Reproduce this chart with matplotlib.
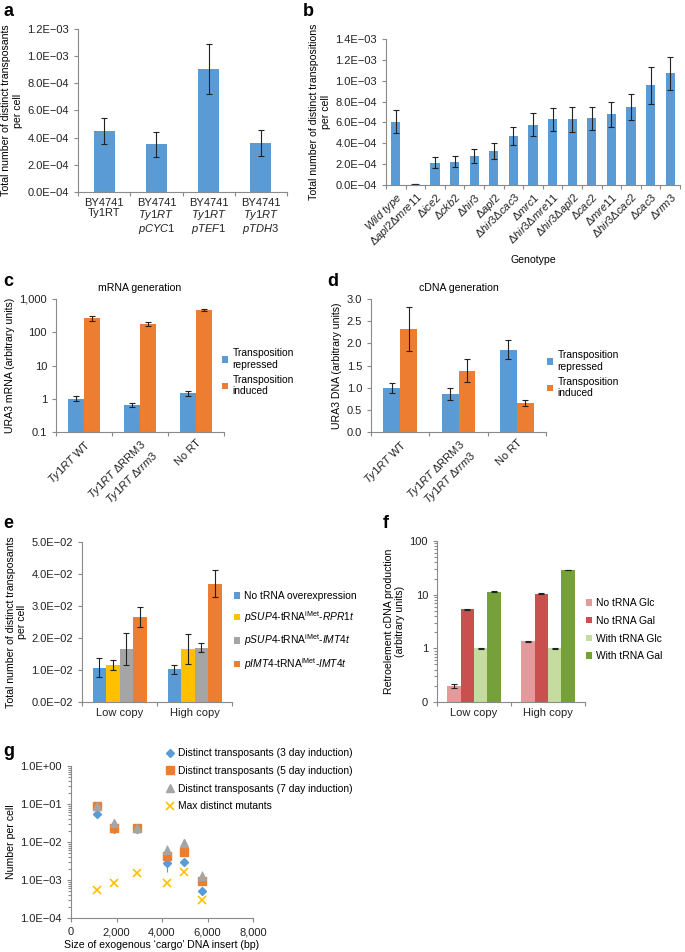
import numpy as np
import matplotlib.pyplot as plt
from matplotlib.ticker import NullLocator, NullFormatter, LogLocator

plt.rcParams['font.family'] = ['Liberation Sans', 'DejaVu Sans']
plt.rcParams['mathtext.fontset'] = 'custom'
plt.rcParams['mathtext.rm'] = 'Liberation Sans'
plt.rcParams['mathtext.it'] = 'Liberation Sans:italic'
plt.rcParams['mathtext.bf'] = 'Liberation Sans:bold'
FS = 8.0      # tick labels
LS = 7.6      # axis labels / titles
GS = 7.4      # legends
plt.rcParams['font.size'] = FS

# ---- data ----
# panel a
a_labels = ['BY4741\nTy1RT',
            'BY4741\n$\\mathit{Ty1RT}$\n$\\mathit{pCYC1}$',
            'BY4741\n$\\mathit{Ty1RT}$\n$\\mathit{pTEF1}$',
            'BY4741\n$\\mathit{Ty1RT}$\n$\\mathit{pTDH3}$']
a_vals = [4.5e-4, 3.5e-4, 9.05e-4, 3.6e-4]
a_err = [0.95e-4, 0.9e-4, 1.85e-4, 0.95e-4]
a_ticks = ['0.0E\u221204', '2.0E\u221204', '4.0E\u221204', '6.0E\u221204',
           '8.0E\u221204', '1.0E\u221203', '1.2E\u221203']

# panel b
b_labels = ['$\\mathit{Wild\\ type}$', '$\\Delta\\mathit{apl2}\\Delta\\mathit{mre11}$',
            '$\\Delta\\mathit{ice2}$', '$\\Delta\\mathit{ckb2}$', '$\\Delta\\mathit{hir3}$',
            '$\\Delta\\mathit{apl2}$', '$\\Delta\\mathit{hir3}\\Delta\\mathit{cac3}$',
            '$\\Delta\\mathit{mrc1}$', '$\\Delta\\mathit{hir3}\\Delta\\mathit{mre11}$',
            '$\\Delta\\mathit{hir3}\\Delta\\mathit{apl2}$', '$\\Delta\\mathit{cac2}$',
            '$\\Delta\\mathit{mre11}$', '$\\Delta\\mathit{hir3}\\Delta\\mathit{cac2}$',
            '$\\Delta\\mathit{cac3}$', '$\\Delta\\mathit{rrm3}$']
b_vals = [6.05e-4, 0.05e-4, 2.15e-4, 2.25e-4, 2.8e-4, 3.25e-4, 4.7e-4, 5.8e-4,
          6.3e-4, 6.3e-4, 6.4e-4, 6.8e-4, 7.45e-4, 9.55e-4, 10.7e-4]
b_err = [1.1e-4, 0.0, 0.55e-4, 0.55e-4, 0.7e-4, 0.75e-4, 0.9e-4, 1.1e-4,
         1.1e-4, 1.2e-4, 1.1e-4, 1.2e-4, 1.25e-4, 1.8e-4, 1.6e-4]
b_ticks = ['0.0E\u221204', '2.0E\u221204', '4.0E\u221204', '6.0E\u221204',
           '8.0E\u221204', '1.0E\u221203', '1.2E\u221203', '1.4E\u221203']

# panels c and d
cd_labels = ['$\\mathit{Ty1RT}$ WT',
             '$\\mathit{Ty1RT}$ \u0394RRM3\n$\\mathit{Ty1RT}\\ \\Delta\\mathit{rrm3}$',
             'No RT']
c_repressed = [1.0, 0.65, 1.5]
c_repressed_err = [0.17, 0.1, 0.27]
c_induced = [265, 175, 465]
c_induced_err = [45, 22, 25]
d_repressed = [1.0, 0.86, 1.86]
d_repressed_err = [0.11, 0.14, 0.22]
d_induced = [2.33, 1.38, 0.66]
d_induced_err = [0.5, 0.26, 0.07]

# panel e
e_groups = ['Low copy', 'High copy']
e_series = ['No tRNA overexpression',
            '$\\mathit{pSUP4}$-tRNA$^{\\mathrm{iMet}}$-$\\mathit{RPR1t}$',
            '$\\mathit{pSUP4}$-tRNA$^{\\mathrm{iMet}}$-$\\mathit{IMT4t}$',
            '$\\mathit{pIMT4}$-tRNA$^{\\mathrm{iMet}}$-$\\mathit{IMT4t}$']
e_vals = [[1.07e-2, 1.02e-2], [1.15e-2, 1.65e-2], [1.65e-2, 1.7e-2], [2.65e-2, 3.7e-2]]
e_err = [[0.3e-2, 0.15e-2], [0.15e-2, 0.47e-2], [0.5e-2, 0.15e-2], [0.32e-2, 0.42e-2]]
e_ticks = ['0.0E\u221202', '1.0E\u221202', '2.0E\u221202', '3.0E\u221202',
           '4.0E\u221202', '5.0E\u221202']

# panel f
f_series = ['No tRNA Glc', 'No tRNA Gal', 'With tRNA Glc', 'With tRNA Gal']
f_vals = [[0.2, 1.35], [5.3, 10.5], [1.0, 1.0], [11.3, 29.0]]
f_err = [[0.015, 0.02], [0.2, 0.2], [0.02, 0.02], [0.3, 0.4]]

# panel g
g_size = [1150, 1900, 2900, 4240, 4980, 5770]
g_day3 = [0.053, 0.022, 0.022, 0.0028, 0.003, 0.0005]
g_day3_err = [0.004, 0.002, 0.002, 0.0012, 0.0005, 0.0001]
g_day5 = [0.087, 0.023, 0.023, 0.0043, 0.0055, 0.00096]
g_day5_err = [0.008, 0.002, 0.002, 0.0012, 0.0012, 0.0002]
g_day7 = [0.088, 0.032, 0.023, 0.006, 0.0096, 0.0013]
g_day7_err = [0.008, 0.003, 0.002, 0.0022, 0.0025, 0.0004]
g_maxmut = [0.00055, 0.00083, 0.0015, 0.00081, 0.0016, 0.00029]
g_names = ['Distinct transposants (3 day induction)',
           'Distinct transposants (5 day induction)',
           'Distinct transposants (7 day induction)',
           'Max distinct mutants']

BLUE, ORANGE, GRAY, YELLOW = '#5B9BD5', '#ED7D31', '#A5A5A5', '#FFC000'
F_COLORS = ['#E29A9B', '#C9504F', '#C6DBA0', '#76A03A']
W, H = 685, 952
ERR = dict(ecolor='#222222', elinewidth=0.8, capsize=2, capthick=0.8)

fig = plt.figure(figsize=(W / 100, H / 100), dpi=100)


def add_ax(x0, y0, x1, y1):
    return fig.add_axes([x0 / W, 1 - y1 / H, (x1 - x0) / W, (y1 - y0) / H])


def style(ax):
    for s in ['top', 'right']:
        ax.spines[s].set_visible(False)
    for s in ['left', 'bottom']:
        ax.spines[s].set_color('#8a8a8a')
        ax.spines[s].set_linewidth(0.8)
    ax.tick_params(which='both', colors='#8a8a8a', labelcolor='#222222',
                   length=3, width=0.8, labelsize=FS)


def cat_axis(ax, labels, **kw):
    n = len(labels)
    ax.set_xlim(-0.5, n - 0.5)
    ax.set_xticks(range(n))
    ax.set_xticklabels(labels, **kw)
    ax.set_xticks(np.arange(n + 1) - 0.5, minor=True)
    ax.tick_params(axis='x', which='major', length=0, pad=4)
    ax.tick_params(axis='x', which='minor', length=3)


def letter(x, y, s):
    fig.text(x / W, 1 - y / H, s, fontsize=13, fontweight='bold', va='center')


def legend(ax, x, y, **kw):
    opts = dict(loc='upper left', bbox_to_anchor=(x / W, 1 - y / H),
                bbox_transform=fig.transFigure, frameon=False, fontsize=GS,
                handlelength=0.6, handleheight=0.6, handletextpad=0.4,
                borderaxespad=0)
    opts.update(kw)
    return ax.legend(**opts)


# ---- a ----
ax = add_ax(78, 29, 287, 192)
style(ax)
x = np.arange(len(a_vals))
ax.bar(x, a_vals, width=0.4, color=BLUE, yerr=a_err, error_kw=ERR)
cat_axis(ax, a_labels, linespacing=1.0)
ax.set_ylim(0, 1.2e-3)
ax.set_yticks(np.linspace(0, 1.2e-3, 7))
ax.set_yticklabels(a_ticks)
ax.set_ylabel('Total number of distinct transposants\nper cell', fontsize=LS, labelpad=3)
letter(3, 11, 'a')

# ---- b ----
ax = add_ax(386, 39, 680, 185)
style(ax)
x = np.arange(len(b_vals))
ax.bar(x, b_vals, width=0.46, color=BLUE, yerr=b_err, error_kw=ERR)
cat_axis(ax, b_labels, rotation=45, ha='right', rotation_mode='anchor')
ax.set_ylim(0, 1.4e-3)
ax.set_yticks(np.linspace(0, 1.4e-3, 8))
ax.set_yticklabels(b_ticks)
ax.set_ylabel('Total number of distinct transpositions\nper cell', fontsize=LS, labelpad=3)
ax.set_xlabel('Genotype', fontsize=LS, labelpad=4)
letter(303, 11, 'b')


def grouped_two(ax, rep, rep_err, ind, ind_err):
    x = np.arange(len(rep))
    w = 0.29
    ax.bar(x - w / 2, rep, width=w, color=BLUE, yerr=rep_err, error_kw=ERR,
           label='Transposition\nrepressed')
    ax.bar(x + w / 2, ind, width=w, color=ORANGE, yerr=ind_err, error_kw=ERR,
           label='Transposition\ninduced')
    cat_axis(ax, cd_labels, rotation=45, ha='right', rotation_mode='anchor')


# ---- c ----
ax = add_ax(56, 299, 224, 432)
style(ax)
ax.set_yscale('log')
grouped_two(ax, c_repressed, c_repressed_err, c_induced, c_induced_err)
ax.set_ylim(0.1, 1000)
ax.set_yticks([0.1, 1, 10, 100, 1000])
ax.set_yticklabels(['0.1', '1', '10', '100', '1,000'])
ax.yaxis.set_minor_locator(NullLocator())
ax.set_ylabel('URA3 mRNA (arbitrary units)', fontsize=LS, labelpad=3)
ax.set_title('mRNA generation', fontsize=LS, pad=6)
legend(ax, 218, 344)
letter(3, 282, 'c')

# ---- d ----
ax = add_ax(371, 299, 546, 432)
style(ax)
grouped_two(ax, d_repressed, d_repressed_err, d_induced, d_induced_err)
ax.set_ylim(0, 3.0)
ax.set_yticks(np.arange(0, 3.01, 0.5))
ax.set_yticklabels(['%.1f' % v for v in np.arange(0, 3.01, 0.5)])
ax.set_ylabel('URA3 DNA (arbitrary units)', fontsize=LS, labelpad=3)
ax.set_title('cDNA generation', fontsize=LS, pad=6)
legend(ax, 543, 346)
letter(327, 282, 'd')


def grouped_four(ax, vals, errs, colors, labels):
    x = np.arange(len(vals[0]))
    w = 0.18
    for i in range(len(vals)):
        ax.bar(x + (i - 1.5) * w, vals[i], width=w, color=colors[i],
               yerr=errs[i], error_kw=ERR, label=labels[i])
    cat_axis(ax, e_groups)


# ---- e ----
ax = add_ax(82, 542, 232, 702)
style(ax)
grouped_four(ax, e_vals, e_err, [BLUE, YELLOW, GRAY, ORANGE], e_series)
ax.set_ylim(0, 0.05)
ax.set_yticks(np.linspace(0, 0.05, 6))
ax.set_yticklabels(e_ticks)
ax.set_ylabel('Total number of distinct transposants\nper cell', fontsize=LS, labelpad=3)
legend(ax, 230, 587, labelspacing=0.75)
letter(3, 524, 'e')

# ---- f ----
ax = add_ax(437, 541, 585, 702)
style(ax)
ax.set_yscale('log')
grouped_four(ax, f_vals, f_err, F_COLORS, f_series)
ax.set_ylim(0.1, 100)
ax.set_yticks([0.1, 1, 10, 100])
ax.set_yticklabels(['0', '1', '10', '100'])
ax.yaxis.set_minor_locator(LogLocator(subs=np.arange(2, 10)))
ax.yaxis.set_minor_formatter(NullFormatter())
ax.tick_params(axis='y', which='minor', length=2)
ax.set_ylabel('Retroelement cDNA production\n(arbitrary units)', fontsize=LS, labelpad=3)
legend(ax, 582, 594, labelspacing=0.75)
letter(383, 523, 'f')

# ---- g ----
ax = add_ax(71, 766, 253, 918)
style(ax)
ax.set_yscale('log')
h1 = ax.errorbar(g_size, g_day3, yerr=g_day3_err, fmt='D', color=BLUE, ms=4.5,
                 elinewidth=0.8, capsize=0)
h2 = ax.errorbar(g_size, g_day5, yerr=g_day5_err, fmt='s', color=ORANGE, ms=6,
                 elinewidth=0.8, capsize=0)
h3 = ax.errorbar(g_size, g_day7, yerr=g_day7_err, fmt='^', color=GRAY, ms=6,
                 elinewidth=0.8, capsize=0)
h4, = ax.plot(g_size, g_maxmut, 'x', color=YELLOW, ms=6, mew=1.2)
ax.set_xlim(0, 8000)
ax.set_xticks([0, 2000, 4000, 6000, 8000])
ax.set_xticklabels(['0', '2,000', '4,000', '6,000', '8,000'])
ax.set_ylim(1e-4, 1)
ax.set_yticks([1e-4, 1e-3, 1e-2, 1e-1, 1])
ax.set_yticklabels(['1.0E\u221204', '1.0E\u221203', '1.0E\u221202',
                    '1.0E\u221201', '1.0E+00'])
ax.yaxis.set_minor_locator(LogLocator(subs=np.arange(2, 10)))
ax.yaxis.set_minor_formatter(NullFormatter())
ax.tick_params(axis='y', which='minor', length=2)
ax.set_ylabel('Number per cell', fontsize=LS, labelpad=3)
ax.set_xlabel('Size of exogenous \u2018cargo\u2019 DNA insert (bp)', fontsize=LS, labelpad=2)
ax.legend([h1[0], h2[0], h3[0], h4], g_names, loc='upper left',
          bbox_to_anchor=(161 / W, 1 - 744 / H), bbox_transform=fig.transFigure,
          frameon=False, fontsize=GS, handlelength=1.0, handletextpad=0.3,
          borderaxespad=0, labelspacing=0.75)
letter(3, 752, 'g')

fig.savefig('out.png', dpi=100)
